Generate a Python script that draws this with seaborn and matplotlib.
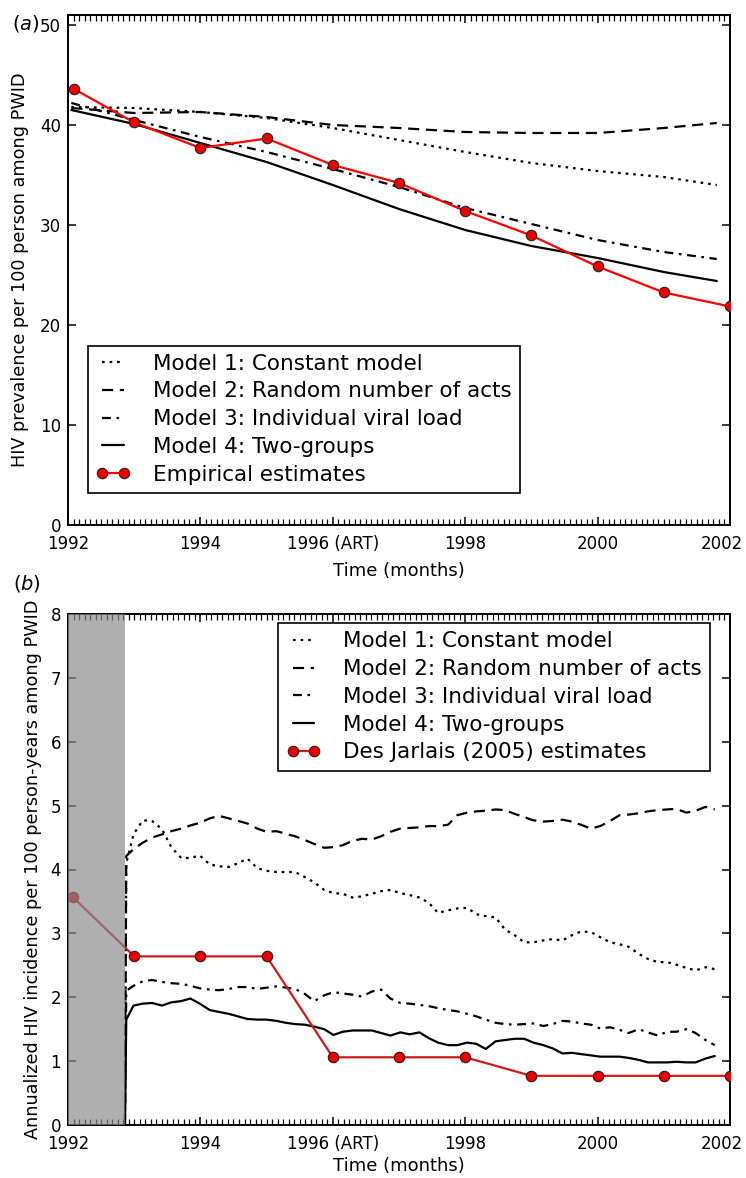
import numpy as np
import matplotlib
matplotlib.use("Agg")
import matplotlib.pyplot as plt
from matplotlib.ticker import MultipleLocator, FixedLocator
from matplotlib.transforms import ScaledTranslation
import seaborn as sns

# ---------------- data: panel (a) ----------------
years_a = [1992.05, 1993.0, 1994.0, 1995.0, 1996.0, 1997.0, 1998.0, 1999.0, 2000.0, 2001.0, 2001.8]
prev_m1 = [41.8, 41.7, 41.3, 40.7, 39.7, 38.5, 37.3, 36.2, 35.4, 34.8, 34.0]
prev_m2 = [41.7, 41.2, 41.3, 40.8, 40.0, 39.7, 39.3, 39.2, 39.2, 39.7, 40.2]
prev_m3 = [42.2, 40.5, 38.8, 37.3, 35.6, 33.8, 31.7, 30.1, 28.5, 27.3, 26.6]
prev_m4 = [41.5, 40.1, 38.2, 36.3, 34.0, 31.6, 29.5, 27.9, 26.7, 25.3, 24.4]
emp_years = [1992.09, 1993, 1994, 1995, 1996, 1997, 1998, 1999, 2000, 2001, 2002]
emp_prev = [43.6, 40.25, 37.7, 38.65, 36.0, 34.2, 31.4, 28.95, 25.85, 23.25, 21.85]

# ---------------- data: panel (b) ----------------
years_b = [1992.86, 1992.88,
           1992.99, 1993.13, 1993.27, 1993.42, 1993.56, 1993.71, 1993.85, 1993.99,
           1994.14, 1994.28, 1994.43, 1994.57, 1994.71, 1994.86, 1995.00, 1995.15,
           1995.29, 1995.43, 1995.58, 1995.72, 1995.87, 1996.01, 1996.15, 1996.30,
           1996.44, 1996.59, 1996.73, 1996.87, 1997.02, 1997.16, 1997.31, 1997.45,
           1997.59, 1997.74, 1997.88, 1998.03, 1998.17, 1998.31, 1998.46, 1998.60,
           1998.75, 1998.89, 1999.03, 1999.18, 1999.32, 1999.47, 1999.61, 1999.75,
           1999.90, 2000.04, 2000.19, 2000.33, 2000.47, 2000.62, 2000.76, 2000.91,
           2001.05, 2001.19, 2001.34, 2001.48, 2001.63, 2001.77]
inc_m1 = [0.0, 4.1,
          4.55, 4.77, 4.76, 4.63, 4.35, 4.18, 4.18, 4.22, 4.08, 4.05,
          4.04, 4.1, 4.17, 4.02, 3.98, 3.96, 3.96, 3.96, 3.88, 3.8,
          3.68, 3.63, 3.62, 3.56, 3.58, 3.62, 3.66, 3.68, 3.63, 3.6,
          3.56, 3.48, 3.32, 3.36, 3.39, 3.4, 3.3, 3.27, 3.25, 3.06,
          2.97, 2.86, 2.86, 2.89, 2.91, 2.89, 2.97, 3.03, 3.02, 2.94,
          2.86, 2.83, 2.79, 2.68, 2.6, 2.55, 2.55, 2.51, 2.46, 2.42,
          2.47, 2.44]
inc_m2 = [0.0, 4.21,
          4.32, 4.42, 4.5, 4.55, 4.6, 4.64, 4.69, 4.73, 4.8, 4.84,
          4.8, 4.76, 4.72, 4.64, 4.59, 4.6, 4.56, 4.52, 4.46, 4.4,
          4.34, 4.35, 4.38, 4.45, 4.48, 4.47, 4.52, 4.59, 4.64, 4.65,
          4.66, 4.68, 4.68, 4.7, 4.85, 4.89, 4.91, 4.92, 4.94, 4.93,
          4.87, 4.82, 4.77, 4.75, 4.76, 4.78, 4.75, 4.7, 4.64, 4.68,
          4.76, 4.85, 4.86, 4.88, 4.91, 4.93, 4.94, 4.95, 4.89, 4.92,
          4.98, 4.94]
inc_m3 = [0.0, 2.1,
          2.18, 2.25, 2.27, 2.24, 2.22, 2.21, 2.18, 2.14, 2.12, 2.11,
          2.13, 2.16, 2.16, 2.13, 2.15, 2.17, 2.15, 2.13, 2.05, 1.94,
          2.03, 2.08, 2.06, 2.04, 2.01, 2.09, 2.12, 1.98, 1.91, 1.9,
          1.88, 1.86, 1.83, 1.8, 1.78, 1.74, 1.7, 1.65, 1.6, 1.58,
          1.57, 1.58, 1.59, 1.55, 1.58, 1.63, 1.62, 1.59, 1.57, 1.51,
          1.53, 1.49, 1.44, 1.5, 1.45, 1.4, 1.46, 1.46, 1.5, 1.44,
          1.33, 1.25]
inc_m4 = [0.0, 1.65,
          1.87, 1.9, 1.91, 1.87, 1.92, 1.94, 1.98, 1.9, 1.8, 1.77,
          1.74, 1.7, 1.66, 1.65, 1.65, 1.63, 1.6, 1.58, 1.57, 1.54,
          1.5, 1.41, 1.46, 1.48, 1.48, 1.48, 1.44, 1.4, 1.45, 1.42,
          1.45, 1.36, 1.29, 1.25, 1.25, 1.29, 1.27, 1.19, 1.31, 1.33,
          1.35, 1.35, 1.29, 1.25, 1.2, 1.12, 1.13, 1.11, 1.09, 1.07,
          1.07, 1.07, 1.05, 1.02, 0.98, 0.98, 0.98, 0.99, 0.98, 0.98,
          1.04, 1.08]
dj_years = [1992.07, 1993, 1994, 1995, 1996, 1997, 1998, 1999, 2000, 2001, 2002]
dj_inc = [3.57, 2.64, 2.64, 2.64, 1.06, 1.06, 1.06, 0.77, 0.77, 0.77, 0.77]
shade_span = [1992.0, 1992.86]

model_labels = ["Model 1: Constant model", "Model 2: Random number of acts",
                "Model 3: Individual viral load", "Model 4: Two-groups"]
xtick_vals = [1992, 1994, 1996, 1998, 2000, 2002]
xtick_labels = ["1992", "1994", "1996 (ART)", "1998", "2000", "2002"]

# ---------------- style ----------------
sns.set_style("ticks")
plt.rcParams["font.family"] = ["DejaVu Sans"]
plt.rcParams.update({"text.color": "black", "axes.labelcolor": "black",
                     "xtick.color": "black", "ytick.color": "black",
                     "legend.labelcolor": "black"})
TICK_FS = 12
LEG_FS = 15.5
LAB_FS = 12.7

styles = [dict(linestyle=(0, (1.2, 2.2))),
          dict(linestyle=(0, (5, 3))),
          dict(linestyle=(0, (4, 2.5, 1.2, 2.5))),
          dict(linestyle="-")]

fig = plt.figure(figsize=(7.46, 11.78), dpi=100)
ax1 = fig.add_axes([68 / 746, 1 - 525 / 1178, 662 / 746, 510 / 1178])
ax2 = fig.add_axes([68 / 746, 1 - 1125 / 1178, 662 / 746, 511 / 1178])


def style_axes(ax, xlabelpad):
    ax.set_xlim(1992, 2002)
    ax.xaxis.set_major_locator(FixedLocator(xtick_vals))
    ax.set_xticklabels(xtick_labels)
    ax.xaxis.set_minor_locator(MultipleLocator(1 / 12))
    ax.tick_params(axis="both", which="both", direction="in", top=True, right=True,
                   labelsize=TICK_FS, color="black", labelcolor="black")
    ax.tick_params(axis="both", which="major", length=6, width=1.1)
    ax.tick_params(axis="x", which="major", pad=7)
    ax.tick_params(axis="y", which="major", pad=5)
    ax.tick_params(axis="x", which="minor", length=4, width=0.9)
    ax.tick_params(axis="y", which="minor", length=0)
    for s in ax.spines.values():
        s.set_visible(True)
        s.set_linewidth(1.4)
        s.set_color("black")
    ax.set_xlabel("Time (months)", fontsize=13, labelpad=xlabelpad, color="black")


def shift_last_label(ax):
    lab = ax.get_xticklabels()[-1]
    lab.set_transform(lab.get_transform() + ScaledTranslation(-8 / 100, 0, fig.dpi_scale_trans))


leg_kw = dict(borderaxespad=0, fontsize=LEG_FS, frameon=True, fancybox=False,
              edgecolor="black", framealpha=1, handlelength=1.6, handletextpad=1.05,
              numpoints=2, borderpad=0.38, labelspacing=0.36)

# ---------------- panel (a) ----------------
for vals, lab, st in zip([prev_m1, prev_m2, prev_m3, prev_m4], model_labels, styles):
    sns.lineplot(x=years_a, y=vals, ax=ax1, color="black", lw=1.6, label=lab,
                 sort=False, estimator=None, **st)
sns.lineplot(x=emp_years, y=emp_prev, ax=ax1, color="#ff0000", lw=1.6, marker="o",
             markersize=7.5, markerfacecolor="#ee0000", markeredgecolor="#222222",
             markeredgewidth=0.8, label="Empirical estimates", sort=False,
             estimator=None, zorder=5)
ax1.set_ylim(0, 51)
ax1.set_yticks([0, 10, 20, 30, 40, 50])
style_axes(ax1, 7)
ax1.set_ylabel("HIV prevalence per 100 person among PWID", fontsize=LAB_FS, labelpad=8)
leg1 = ax1.legend(loc="lower left", bbox_to_anchor=(0.03, 0.063), **leg_kw)
leg1.get_frame().set_linewidth(1.2)

# ---------------- panel (b) ----------------
for vals, lab, st in zip([inc_m1, inc_m2, inc_m3, inc_m4], model_labels, styles):
    sns.lineplot(x=years_b, y=vals, ax=ax2, color="black", lw=1.6, label=lab,
                 sort=False, estimator=None, **st)
sns.lineplot(x=dj_years, y=dj_inc, ax=ax2, color="#cc1a1a", lw=1.6, marker="o",
             markersize=7.5, markerfacecolor="#ee0000", markeredgecolor="#331111",
             markeredgewidth=0.8, label="Des Jarlais (2005) estimates", sort=False,
             estimator=None, zorder=4)
ax2.axvspan(shade_span[0], shade_span[1], facecolor="#8a8a8a", alpha=0.68,
            edgecolor="none", zorder=4.5)
ax2.set_ylim(0, 8)
ax2.set_yticks(range(0, 9))
style_axes(ax2, 3)
ax2.set_ylabel("Annualized HIV incidence per 100 person-years among PWID",
               fontsize=LAB_FS, labelpad=6)
leg2 = ax2.legend(loc="upper right", bbox_to_anchor=(0.97, 0.982), **leg_kw)
leg2.get_frame().set_linewidth(1.2)
leg2.set_zorder(10)

shift_last_label(ax1)
shift_last_label(ax2)

fig.text(26 / 746, 1 - 24 / 1178, r"($a$)", fontsize=14, ha="center", va="center")
fig.text(27 / 746, 1 - 583 / 1178, r"($b$)", fontsize=14, ha="center", va="center")

fig.savefig("out.png", dpi=100)
